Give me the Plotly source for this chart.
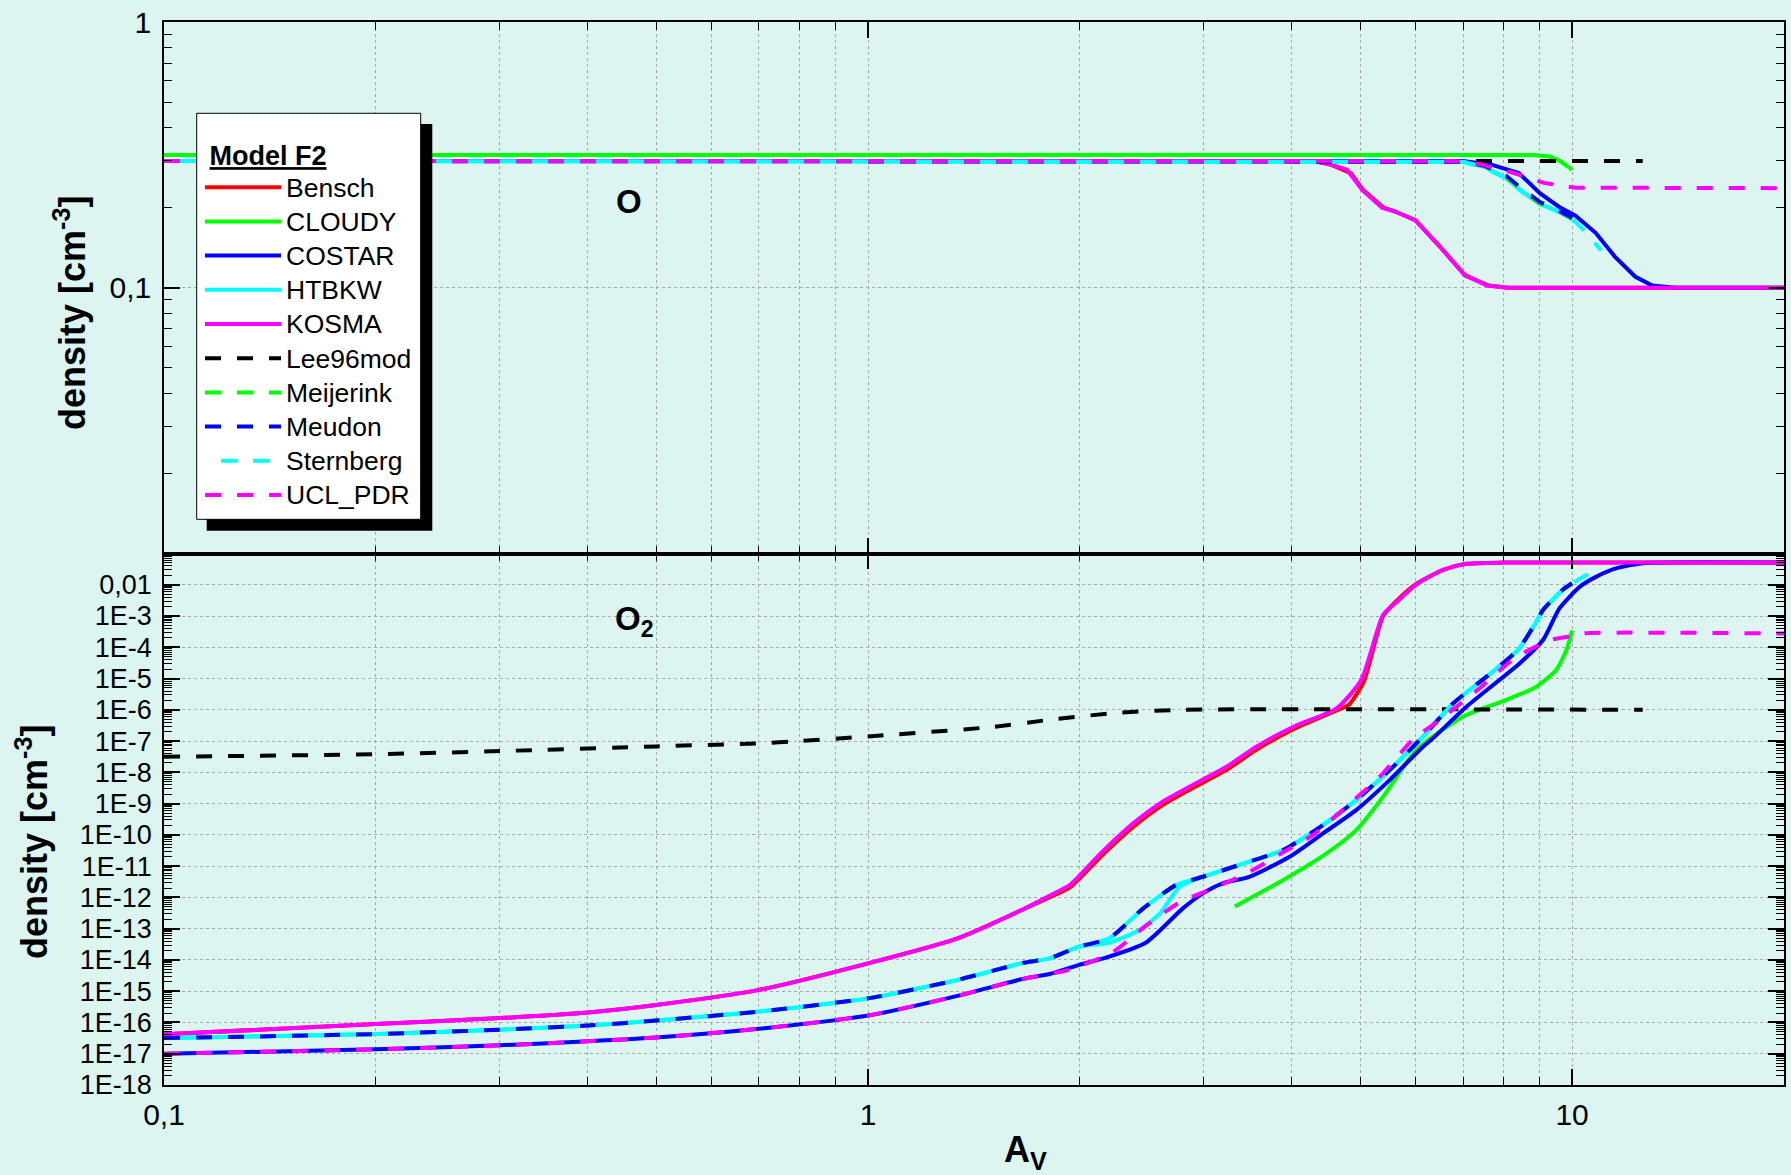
import plotly.graph_objects as go

# ---------------- data : upper panel (atomic O) ----------------
bensch_o_av = [0.1, 4.3, 4.55, 4.85, 5.05, 5.4, 5.6, 6.0, 6.5, 7.05, 7.6, 8.1, 20]
bensch_o_n = [0.3, 0.3, 0.29, 0.27, 0.233, 0.20, 0.194, 0.179, 0.142, 0.111, 0.102, 0.1, 0.1]
cloudy_o_av = [0.1, 8.8, 9.3, 9.63, 10.0]
cloudy_o_n = [0.316, 0.316, 0.312, 0.299, 0.278]
costar_o_av = [0.1, 7.0, 7.7, 8.4, 9.0, 9.6, 10.1, 10.8, 11.5, 12.3, 13.0, 14.0, 20]
costar_o_n = [0.3, 0.3, 0.29, 0.27, 0.227, 0.201, 0.187, 0.161, 0.131, 0.11, 0.102, 0.1, 0.1]
htbkw_o_av = [0.1, 7.0, 7.5, 8.0, 8.5, 9.0, 9.5, 10.0]
htbkw_o_n = [0.3, 0.298, 0.285, 0.262, 0.23, 0.206, 0.195, 0.181]
kosma_o_av = [0.1, 4.3, 4.5, 4.79, 5.03, 5.37, 5.59, 5.98, 6.49, 7.03, 7.57, 8.1, 20]
kosma_o_n = [0.3, 0.3, 0.293, 0.278, 0.234, 0.20, 0.194, 0.180, 0.143, 0.112, 0.102, 0.1, 0.1]
lee96_o_av = [0.1, 12.6]
lee96_o_n = [0.3, 0.3]
meijerink_o_av = [0.1, 7.0, 7.5, 8.0, 8.5, 9.0, 9.5, 10.0]
meijerink_o_n = [0.3, 0.298, 0.287, 0.265, 0.232, 0.207, 0.196, 0.182]
meudon_o_av = [0.1, 7.0, 7.5, 8.0, 8.5, 9.0, 9.5, 10.0]
meudon_o_n = [0.3, 0.298, 0.288, 0.268, 0.235, 0.21, 0.197, 0.183]
sternberg_o_av = [0.1, 7.0, 7.5, 8.0, 8.5, 9.0, 9.5, 10.0, 10.5, 11.0]
sternberg_o_n = [0.3, 0.297, 0.283, 0.26, 0.229, 0.207, 0.195, 0.182, 0.16, 0.138]
ucl_o_av = [0.1, 6.8, 7.35, 8.2, 9.12, 10.1, 20]
ucl_o_n = [0.3, 0.3, 0.293, 0.272, 0.248, 0.238, 0.237]

# ---------------- data : lower panel (O2) ----------------
bensch_o2_av = [0.1, 0.2, 0.3, 0.4, 0.5, 0.7, 1.0, 1.34, 1.65, 1.81, 1.935, 2.14, 2.38, 2.62,
                2.86, 3.23, 3.56, 4.02, 4.63, 4.82, 5.06, 5.39, 5.64, 6.0, 6.56, 7.08, 8.0, 20]
bensch_o2_n = [4.17e-17, 8.91e-17, 1.38e-16, 2.09e-16, 3.63e-16, 1.10e-15, 7.76e-15, 4.90e-14,
               3.89e-13, 1.0e-12, 2.09e-12, 2.0e-11, 1.78e-10, 8.91e-10, 2.75e-9, 1.20e-8, 5.25e-8,
               2.40e-7, 9.55e-7, 1.45e-6, 7.94e-6, 1.0e-3, 3.16e-3, 1.05e-2, 3.02e-2, 4.68e-2,
               5.13e-2, 5.13e-2]
cloudy_o2_av = [3.32, 3.89, 4.48, 4.94, 5.39, 6.01, 7.0, 8.07, 8.9, 9.5, 9.82, 10.0]
cloudy_o2_n = [5.13e-13, 3.63e-12, 2.57e-11, 1.45e-10, 1.66e-9, 5.25e-8, 6.03e-7, 2.09e-6,
               5.50e-6, 1.91e-5, 8.32e-5, 3.47e-4]
costar_o2_av = [0.1, 0.2, 0.3, 0.4, 0.5, 0.7, 1.0, 1.34, 1.65, 1.81, 2.0, 2.16, 2.48, 2.8, 2.99,
                3.19, 3.48, 3.97, 4.43, 4.94, 5.51, 6.14, 6.31, 7.08, 8.43, 9.1, 9.6, 10.26, 10.83,
                11.57, 12.6, 20]
costar_o2_n = [1.0e-17, 1.38e-17, 1.86e-17, 2.51e-17, 3.31e-17, 6.31e-17, 1.66e-16, 7.08e-16,
               2.40e-15, 3.55e-15, 7.08e-15, 1.12e-14, 3.55e-14, 4.47e-13, 1.35e-12, 2.82e-12,
               4.57e-12, 2.0e-11, 1.12e-10, 6.31e-10, 5.75e-9, 6.61e-8, 1.10e-7, 1.26e-6, 3.09e-5,
               1.74e-4, 1.78e-3, 8.71e-3, 1.82e-2, 3.39e-2, 4.90e-2, 5.13e-2]
htbkw_o2_av = [0.1, 0.2, 0.3, 0.4, 0.5, 0.7, 1.0, 1.34, 1.65, 1.81, 1.99, 2.2, 2.43, 2.6, 2.77,
               2.99, 3.37, 3.89, 4.43, 4.94, 5.51, 6.14, 6.78, 7.56, 8.38, 8.81, 9.1, 9.7, 10.0]
htbkw_o2_n = [3.16e-17, 4.27e-17, 5.89e-17, 7.94e-17, 1.15e-16, 2.24e-16, 5.89e-16, 2.29e-15,
              7.76e-15, 1.12e-14, 2.63e-14, 3.55e-14, 9.12e-14, 3.16e-13, 2.19e-12, 4.57e-12,
              1.10e-11, 3.31e-11, 2.09e-10, 1.32e-9, 1.20e-8, 1.38e-7, 1.62e-6, 1.15e-5, 8.32e-5,
              4.57e-4, 1.58e-3, 6.92e-3, 1.12e-2]
kosma_o2_av = [0.1, 0.2, 0.3, 0.4, 0.5, 0.7, 1.0, 1.34, 1.65, 1.81, 1.935, 2.14, 2.38, 2.62,
               2.86, 3.23, 3.56, 4.02, 4.63, 5.02, 5.39, 5.64, 6.0, 6.56, 7.08, 8.0, 20]
kosma_o2_n = [4.17e-17, 8.91e-17, 1.38e-16, 2.09e-16, 3.63e-16, 1.10e-15, 7.76e-15, 4.90e-14,
              3.89e-13, 1.12e-12, 2.51e-12, 2.57e-11, 2.34e-10, 1.15e-9, 3.47e-9, 1.51e-8, 6.61e-8,
              2.88e-7, 1.12e-6, 9.12e-6, 1.10e-3, 2.88e-3, 1.0e-2, 3.02e-2, 4.68e-2, 5.13e-2,
              5.13e-2]
lee96_o2_av = [0.1, 0.2, 0.3, 0.5, 0.7, 0.8, 1.0, 1.5, 1.81, 2.25, 2.8, 12.6]
lee96_o2_n = [3.16e-8, 3.80e-8, 4.79e-8, 6.76e-8, 8.51e-8, 1.0e-7, 1.41e-7, 2.82e-7, 4.79e-7,
              7.94e-7, 1.0e-6, 1.0e-6]
meijerink_o2_av = [0.1, 0.2, 0.3, 0.4, 0.5, 0.7, 1.0, 1.34, 1.65, 1.81, 1.99, 2.2, 2.46, 2.74,
                   2.99, 3.37, 3.89, 4.43, 4.94, 5.51, 6.14, 6.78, 7.56, 8.38, 8.81, 9.1, 9.7, 10.0]
meijerink_o2_n = [3.16e-17, 4.27e-17, 5.89e-17, 7.94e-17, 1.15e-16, 2.24e-16, 5.89e-16, 2.29e-15,
                  7.76e-15, 1.12e-14, 2.63e-14, 4.90e-14, 4.47e-13, 2.51e-12, 4.57e-12, 1.10e-11,
                  3.31e-11, 2.09e-10, 1.32e-9, 1.20e-8, 1.38e-7, 1.62e-6, 1.15e-5, 8.32e-5,
                  4.57e-4, 1.58e-3, 6.92e-3, 1.12e-2]
meudon_o2_av = [0.1, 0.2, 0.3, 0.4, 0.5, 0.7, 1.0, 1.34, 1.65, 1.81, 1.99, 2.2, 2.46, 2.74,
                2.99, 3.37, 3.89, 4.43, 4.94, 5.51, 6.14, 6.78, 7.56, 8.38, 8.81, 9.1, 9.7, 10.0]
meudon_o2_n = [3.16e-17, 4.27e-17, 5.89e-17, 7.94e-17, 1.15e-16, 2.24e-16, 5.89e-16, 2.29e-15,
               7.76e-15, 1.12e-14, 2.63e-14, 4.90e-14, 4.47e-13, 2.51e-12, 4.57e-12, 1.10e-11,
               3.31e-11, 2.09e-10, 1.32e-9, 1.20e-8, 1.38e-7, 1.62e-6, 1.15e-5, 8.32e-5,
               4.57e-4, 1.58e-3, 6.92e-3, 1.12e-2]
sternberg_o2_av = [0.1, 0.2, 0.3, 0.4, 0.5, 0.7, 1.0, 1.34, 1.65, 1.81, 1.99, 2.2, 2.46, 2.74,
                   2.99, 3.37, 3.89, 4.43, 4.94, 5.51, 6.14, 6.78, 7.56, 8.38, 8.81, 9.1, 9.7, 10.0,
                   10.6]
sternberg_o2_n = [3.16e-17, 4.27e-17, 5.89e-17, 7.94e-17, 1.15e-16, 2.24e-16, 5.89e-16, 2.29e-15,
                  7.76e-15, 1.12e-14, 2.63e-14, 4.90e-14, 4.47e-13, 2.51e-12, 4.57e-12, 1.10e-11,
                  3.31e-11, 2.09e-10, 1.32e-9, 1.20e-8, 1.38e-7, 1.62e-6, 1.15e-5, 8.32e-5,
                  4.57e-4, 1.58e-3, 6.92e-3, 1.12e-2, 2.34e-2]
ucl_o2_av = [0.1, 0.2, 0.3, 0.4, 0.5, 0.7, 1.0, 1.34, 1.65, 1.81, 1.93, 2.23, 2.48, 2.77, 3.09,
             3.45, 3.85, 4.29, 4.78, 5.33, 5.95, 6.49, 7.4, 8.34, 9.35, 9.93, 10.3, 20]
ucl_o2_n = [1.0e-17, 1.38e-17, 1.86e-17, 2.51e-17, 3.31e-17, 6.31e-17, 1.66e-16, 7.08e-16,
            2.40e-15, 3.55e-15, 4.79e-15, 1.82e-14, 1.23e-13, 6.92e-13, 1.95e-12, 5.89e-12,
            2.45e-11, 1.0e-10, 7.94e-10, 7.24e-9, 1.15e-7, 4.79e-7, 5.01e-6, 5.01e-5, 1.74e-4,
            2.24e-4, 2.75e-4, 2.75e-4]

# ---------------- series definitions ----------------
model_names = ["Bensch", "CLOUDY", "COSTAR", "HTBKW", "KOSMA",
               "Lee96mod", "Meijerink", "Meudon", "Sternberg", "UCL_PDR"]
model_colors = ["#FF0000", "#00FF00", "#0000FF", "#00FFFF", "#FF00FF",
                "#000000", "#00FF00", "#0000FF", "#00FFFF", "#FF00FF"]
model_dashes = ["solid", "solid", "solid", "solid", "solid",
                "16px,16px", "16px,16px", "16px,16px", "0px,16px,16px,0px", "16px,16px"]

o_av = [bensch_o_av, cloudy_o_av, costar_o_av, htbkw_o_av, kosma_o_av,
        lee96_o_av, meijerink_o_av, meudon_o_av, sternberg_o_av, ucl_o_av]
o_n = [bensch_o_n, cloudy_o_n, costar_o_n, htbkw_o_n, kosma_o_n,
       lee96_o_n, meijerink_o_n, meudon_o_n, sternberg_o_n, ucl_o_n]
o2_av = [bensch_o2_av, cloudy_o2_av, costar_o2_av, htbkw_o2_av, kosma_o2_av,
         lee96_o2_av, meijerink_o2_av, meudon_o2_av, sternberg_o2_av, ucl_o2_av]
o2_n = [bensch_o2_n, cloudy_o2_n, costar_o2_n, htbkw_o2_n, kosma_o2_n,
        lee96_o2_n, meijerink_o2_n, meudon_o2_n, sternberg_o2_n, ucl_o2_n]

x_tickvals = [0.1, 1, 10]
x_ticktext = ["0,1", "1", "10"]
o_tickvals = [1, 0.1]
o_ticktext = ["1", "0,1"]
o2_tickvals = [1e-2, 1e-3, 1e-4, 1e-5, 1e-6, 1e-7, 1e-8, 1e-9, 1e-10, 1e-11, 1e-12,
               1e-13, 1e-14, 1e-15, 1e-16, 1e-17, 1e-18]
o2_ticktext = ["0,01", "1E-3", "1E-4", "1E-5", "1E-6", "1E-7", "1E-8", "1E-9", "1E-10",
               "1E-11", "1E-12", "1E-13", "1E-14", "1E-15", "1E-16", "1E-17", "1E-18"]

BG = "#DDF5F1"
FONT = "Liberation Sans, Arial, sans-serif"
GRID = "#A8A8A8"
LW = 4

W, H = 1791, 1175
ML, MR, MT, MB = 164, 7, 22, 90
PW, PH = W - ML - MR, H - MT - MB


def px(fx):
    return (fx - ML) / PW


def py(fy):
    return (H - MB - fy) / PH


fig = go.Figure()

for i, name in enumerate(model_names):
    fig.add_trace(go.Scatter(
        x=o_av[i], y=o_n[i], mode="lines",
        name='<span style="font-size:26.5px">' + name + "</span>",
        legendgroup=name,
        line=dict(color=model_colors[i], width=LW, dash=model_dashes[i]),
        xaxis="x2", yaxis="y2", showlegend=True))
for i, name in enumerate(model_names):
    fig.add_trace(go.Scatter(
        x=o2_av[i], y=o2_n[i], mode="lines", name=name, legendgroup=name,
        line=dict(color=model_colors[i], width=LW, dash=model_dashes[i],
                  shape="spline", smoothing=0.6),
        xaxis="x", yaxis="y", showlegend=False))

axis_common = dict(
    showline=True, linecolor="black", linewidth=1.5, mirror="allticks",
    ticks="inside", ticklen=16, tickwidth=1.5, tickcolor="black",
    zeroline=False, automargin=False,
)
x_minor = dict(ticks="inside", ticklen=8, tickwidth=1, tickcolor="black",
               showgrid=True, gridcolor=GRID, griddash="dot", gridwidth=1, dtick="D1")
y_minor = dict(ticks="inside", ticklen=8, tickwidth=1, tickcolor="black",
               showgrid=False, dtick="D1")
tick_font_x = dict(family=FONT, size=30, color="black")
tick_font_y = dict(family=FONT, size=27, color="black")

fig.update_layout(
    width=W, height=H,
    margin=dict(l=ML, r=MR, t=MT, b=MB),
    paper_bgcolor=BG, plot_bgcolor=BG,
    font=dict(family=FONT, color="black"),
    xaxis=dict(type="log", range=[-1, 1.30103], anchor="y",
               tickmode="array", tickvals=x_tickvals, ticktext=x_ticktext,
               showgrid=True, gridcolor=GRID, griddash="dot", gridwidth=1,
               minor=x_minor, ticklabelstandoff=2, tickfont=tick_font_x, **axis_common),
    xaxis2=dict(type="log", range=[-1, 1.30103], anchor="y2", matches="x",
                tickmode="array", tickvals=x_tickvals, ticktext=x_ticktext,
                showticklabels=False,
                showgrid=True, gridcolor=GRID, griddash="dot", gridwidth=1,
                minor=x_minor, tickfont=tick_font_x, **axis_common),
    yaxis=dict(type="log", range=[-18, -1], domain=[0, 0.5], anchor="x",
               tickmode="array", tickvals=o2_tickvals, ticktext=o2_ticktext,
               showgrid=True, gridcolor=GRID, griddash="dot", gridwidth=1,
               minor=y_minor, ticklabelstandoff=5, tickfont=tick_font_y, **axis_common),
    yaxis2=dict(type="log", range=[-2, 0], domain=[0.5, 1], anchor="x2",
                tickmode="array", tickvals=o_tickvals, ticktext=o_ticktext,
                showgrid=True, gridcolor=GRID, griddash="dot", gridwidth=1,
                minor=y_minor, ticklabelstandoff=5, tickfont=tick_font_x, **axis_common),
    legend=dict(
        x=px(200), y=py(130), xanchor="left", yanchor="top",
        bgcolor="rgba(0,0,0,0)", borderwidth=0,
        font=dict(family=FONT, size=24, color="black"),
        title=dict(text="&nbsp;<b><u>Model F2</u></b>", font=dict(family=FONT, size=27)),
        itemwidth=76, tracegroupgap=0,
    ),
    showlegend=True,
)

# legend frame with drop shadow (drawn under the legend entries)
fig.add_shape(type="rect", xref="paper", yref="paper",
              x0=px(206.7), x1=px(432.3), y0=py(530.7), y1=py(124),
              fillcolor="black", line=dict(width=0), layer="above")
fig.add_shape(type="rect", xref="paper", yref="paper",
              x0=px(196.7), x1=px(420.7), y0=py(519.3), y1=py(113.3),
              fillcolor="white", line=dict(color="black", width=1), layer="above")

ann_font_big = dict(family=FONT, size=36, color="black")
fig.add_annotation(text="<b>density [cm<sup>-3</sup>]</b>", xref="paper", yref="paper",
                   x=px(70), y=py(313), textangle=-90,
                   showarrow=False, xanchor="center", yanchor="middle", font=ann_font_big)
fig.add_annotation(text="<b>density [cm<sup>-3</sup>]</b>", xref="paper", yref="paper",
                   x=px(32), y=py(842), textangle=-90,
                   showarrow=False, xanchor="center", yanchor="middle", font=ann_font_big)
fig.add_annotation(text="<b>A<sub>V</sub></b>", xref="paper", yref="paper",
                   x=px(1025), y=py(1152),
                   showarrow=False, xanchor="center", yanchor="middle", font=ann_font_big)
fig.add_annotation(text="<b>O</b>", xref="paper", yref="paper",
                   x=px(614), y=py(201.6),
                   showarrow=False, xanchor="left", yanchor="middle",
                   font=dict(family=FONT, size=33, color="black"))
fig.add_annotation(text="<b>O<sub>2</sub></b>", xref="paper", yref="paper",
                   x=px(613), y=py(621),
                   showarrow=False, xanchor="left", yanchor="middle",
                   font=dict(family=FONT, size=33, color="black"))

fig.write_html(
    "out.html",
    config={"displayModeBar": False},
    post_script="document.body.style.margin='0px';"
                "document.body.style.background='" + BG + "';",
)
